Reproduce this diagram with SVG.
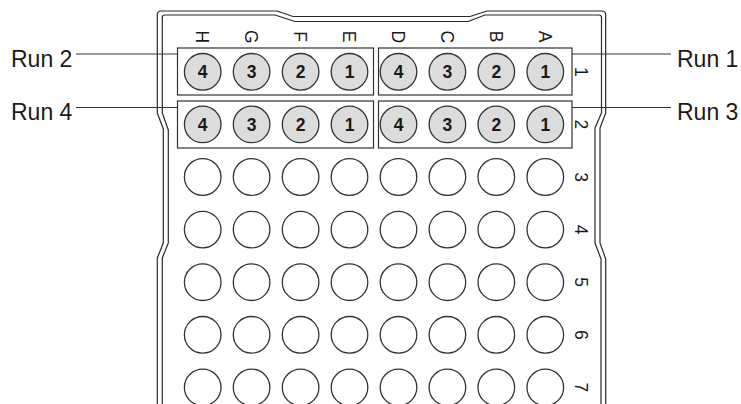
<svg xmlns="http://www.w3.org/2000/svg" width="741" height="404" viewBox="0 0 741 404">
<style>
.plate{fill:none;stroke:#2a2a2a;stroke-width:1.2;stroke-linejoin:round}
.box{fill:none;stroke:#333;stroke-width:1.2}
.well{fill:#fff;stroke:#333;stroke-width:1.3}
.well.run{fill:#dcdcdc}
.num{font-family:"Liberation Sans",Arial,sans-serif;font-weight:bold;font-size:17.5px;fill:#1a1a1a;text-anchor:middle}
.lbl{font-family:"Liberation Sans",Arial,sans-serif;font-size:17.5px;fill:#1a1a1a;text-anchor:middle}
.run-t{font-family:"Liberation Sans",Arial,sans-serif;font-size:23px;fill:#1a1a1a}
.lead{stroke:#333;stroke-width:1;fill:none}
</style>
<g id="plate">
<path class="plate" d="M157.3,404 V258 L163.3,243 V129 L157.3,113 V15 Q157.3,11 161.3,11 H277 L293,16.5 H470 L487,11 H601.7 Q605.7,11 605.7,15 V113 L600,128 V243 L605.7,259 V404"/>
<path class="plate" d="M162.3,404 V258 L168.3,243 V130 L162.3,113 V17.5 Q162.3,15 164.8,15 H275 L295,21.5 H468 L485,15 H599 Q601.5,15 601.5,17.5 V113 L595,128 V243 L601,259 V404"/>
</g>
<g id="connectors">
<line class="lead" x1="76" y1="54" x2="177.5" y2="54"/>
<line class="lead" x1="76" y1="107.5" x2="177.5" y2="107.5"/>
<line class="lead" x1="572" y1="54" x2="671" y2="54"/>
<line class="lead" x1="572" y1="107.5" x2="671" y2="107.5"/>
</g>
<g id="run-boxes">
<rect id="box-run2" class="box" x="177.5" y="48" width="196" height="47"/>
<rect id="box-run1" class="box" x="378.5" y="48" width="193.5" height="47"/>
<rect id="box-run4" class="box" x="177.5" y="101" width="196" height="47"/>
<rect id="box-run3" class="box" x="378.5" y="101" width="193.5" height="47"/>
</g>
<g id="labels-run">
<text id="run2" class="run-t" x="11" y="66.7">Run 2</text>
<text id="run4" class="run-t" x="11" y="120">Run 4</text>
<text id="run1" class="run-t" x="677" y="66.7">Run 1</text>
<text id="run3" class="run-t" x="677" y="120">Run 3</text>
</g>
<g id="col-labels">
<text class="lbl" transform="translate(202.7,36.7) rotate(90)" y="6.3">H</text>
<text class="lbl" transform="translate(251.6,36.7) rotate(90)" y="6.3">G</text>
<text class="lbl" transform="translate(300.6,36.7) rotate(90)" y="6.3">F</text>
<text class="lbl" transform="translate(349.5,36.7) rotate(90)" y="6.3">E</text>
<text class="lbl" transform="translate(398.5,36.7) rotate(90)" y="6.3">D</text>
<text class="lbl" transform="translate(447.4,36.7) rotate(90)" y="6.3">C</text>
<text class="lbl" transform="translate(496.3,36.7) rotate(90)" y="6.3">B</text>
<text class="lbl" transform="translate(545.3,36.7) rotate(90)" y="6.3">A</text>
</g>
<g id="row-labels">
<text class="lbl" transform="translate(581.5,71.8) rotate(90)" y="6.3">1</text>
<text class="lbl" transform="translate(581.5,124.4) rotate(90)" y="6.3">2</text>
<text class="lbl" transform="translate(581.5,177) rotate(90)" y="6.3">3</text>
<text class="lbl" transform="translate(581.5,229.6) rotate(90)" y="6.3">4</text>
<text class="lbl" transform="translate(581.5,282.2) rotate(90)" y="6.3">5</text>
<text class="lbl" transform="translate(581.5,334.8) rotate(90)" y="6.3">6</text>
<text class="lbl" transform="translate(581.5,387.4) rotate(90)" y="6.3">7</text>
</g>
<g id="row1">
<circle class="well run" cx="202.7" cy="71.8" r="18.3"/><text class="num" x="202.7" y="78.1">4</text>
<circle class="well run" cx="251.6" cy="71.8" r="18.3"/><text class="num" x="251.6" y="78.1">3</text>
<circle class="well run" cx="300.6" cy="71.8" r="18.3"/><text class="num" x="300.6" y="78.1">2</text>
<circle class="well run" cx="349.5" cy="71.8" r="18.3"/><text class="num" x="349.5" y="78.1">1</text>
<circle class="well run" cx="398.5" cy="71.8" r="18.3"/><text class="num" x="398.5" y="78.1">4</text>
<circle class="well run" cx="447.4" cy="71.8" r="18.3"/><text class="num" x="447.4" y="78.1">3</text>
<circle class="well run" cx="496.3" cy="71.8" r="18.3"/><text class="num" x="496.3" y="78.1">2</text>
<circle class="well run" cx="545.3" cy="71.8" r="18.3"/><text class="num" x="545.3" y="78.1">1</text>
</g>
<g id="row2">
<circle class="well run" cx="202.7" cy="124.4" r="18.3"/><text class="num" x="202.7" y="130.7">4</text>
<circle class="well run" cx="251.6" cy="124.4" r="18.3"/><text class="num" x="251.6" y="130.7">3</text>
<circle class="well run" cx="300.6" cy="124.4" r="18.3"/><text class="num" x="300.6" y="130.7">2</text>
<circle class="well run" cx="349.5" cy="124.4" r="18.3"/><text class="num" x="349.5" y="130.7">1</text>
<circle class="well run" cx="398.5" cy="124.4" r="18.3"/><text class="num" x="398.5" y="130.7">4</text>
<circle class="well run" cx="447.4" cy="124.4" r="18.3"/><text class="num" x="447.4" y="130.7">3</text>
<circle class="well run" cx="496.3" cy="124.4" r="18.3"/><text class="num" x="496.3" y="130.7">2</text>
<circle class="well run" cx="545.3" cy="124.4" r="18.3"/><text class="num" x="545.3" y="130.7">1</text>
</g>
<g id="row3">
<circle class="well" cx="202.7" cy="177" r="18.3"/><circle class="well" cx="251.6" cy="177" r="18.3"/><circle class="well" cx="300.6" cy="177" r="18.3"/><circle class="well" cx="349.5" cy="177" r="18.3"/><circle class="well" cx="398.5" cy="177" r="18.3"/><circle class="well" cx="447.4" cy="177" r="18.3"/><circle class="well" cx="496.3" cy="177" r="18.3"/><circle class="well" cx="545.3" cy="177" r="18.3"/>
</g>
<g id="row4">
<circle class="well" cx="202.7" cy="229.6" r="18.3"/><circle class="well" cx="251.6" cy="229.6" r="18.3"/><circle class="well" cx="300.6" cy="229.6" r="18.3"/><circle class="well" cx="349.5" cy="229.6" r="18.3"/><circle class="well" cx="398.5" cy="229.6" r="18.3"/><circle class="well" cx="447.4" cy="229.6" r="18.3"/><circle class="well" cx="496.3" cy="229.6" r="18.3"/><circle class="well" cx="545.3" cy="229.6" r="18.3"/>
</g>
<g id="row5">
<circle class="well" cx="202.7" cy="282.2" r="18.3"/><circle class="well" cx="251.6" cy="282.2" r="18.3"/><circle class="well" cx="300.6" cy="282.2" r="18.3"/><circle class="well" cx="349.5" cy="282.2" r="18.3"/><circle class="well" cx="398.5" cy="282.2" r="18.3"/><circle class="well" cx="447.4" cy="282.2" r="18.3"/><circle class="well" cx="496.3" cy="282.2" r="18.3"/><circle class="well" cx="545.3" cy="282.2" r="18.3"/>
</g>
<g id="row6">
<circle class="well" cx="202.7" cy="334.8" r="18.3"/><circle class="well" cx="251.6" cy="334.8" r="18.3"/><circle class="well" cx="300.6" cy="334.8" r="18.3"/><circle class="well" cx="349.5" cy="334.8" r="18.3"/><circle class="well" cx="398.5" cy="334.8" r="18.3"/><circle class="well" cx="447.4" cy="334.8" r="18.3"/><circle class="well" cx="496.3" cy="334.8" r="18.3"/><circle class="well" cx="545.3" cy="334.8" r="18.3"/>
</g>
<g id="row7">
<circle class="well" cx="202.7" cy="387.4" r="18.3"/><circle class="well" cx="251.6" cy="387.4" r="18.3"/><circle class="well" cx="300.6" cy="387.4" r="18.3"/><circle class="well" cx="349.5" cy="387.4" r="18.3"/><circle class="well" cx="398.5" cy="387.4" r="18.3"/><circle class="well" cx="447.4" cy="387.4" r="18.3"/><circle class="well" cx="496.3" cy="387.4" r="18.3"/><circle class="well" cx="545.3" cy="387.4" r="18.3"/>
</g>
</svg>
